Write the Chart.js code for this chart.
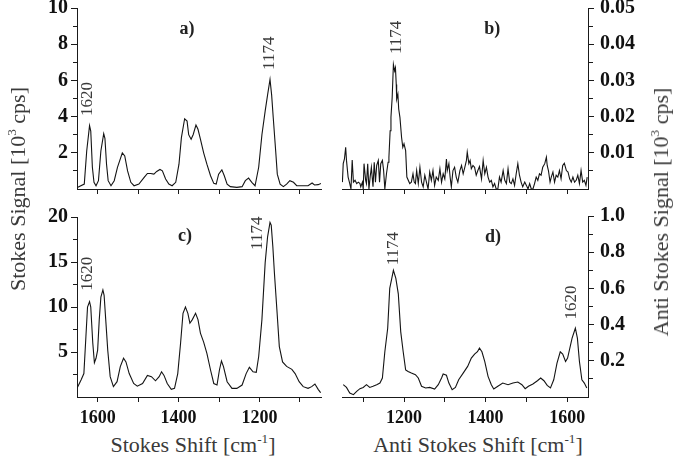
<!DOCTYPE html>
<html>
<head>
<meta charset="utf-8">
<script src="https://cdn.jsdelivr.net/npm/chart.js@4.4.1/dist/chart.umd.min.js"></script>
<style>
  html, body { margin: 0; padding: 0; background: #fff; }
  #wrap { position: relative; width: 674px; height: 472px; overflow: hidden;
          font-family: "Liberation Serif", "Times New Roman", serif; }
  canvas { position: absolute; }
  .t { position: absolute; white-space: nowrap; color: #3a3a3a; font-size: 22px;
       line-height: 1; transform: translate(-50%, -50%); }
  .t.v { transform: translate(-50%, -50%) rotate(-90deg); }
  .t sup { font-size: 0.6em; vertical-align: 0.7em; line-height: 0; }
</style>
</head>
<body>
<div id="wrap">
  <canvas id="pa" width="330" height="200" style="left:0;top:0"></canvas>
  <canvas id="pb" width="320" height="200" style="left:330px;top:0"></canvas>
  <canvas id="pc" width="330" height="230" style="left:0;top:200px"></canvas>
  <canvas id="pd" width="320" height="230" style="left:330px;top:200px"></canvas>
  <div class="t v" style="left:18px;top:189px">Stokes Signal [10<sup>3</sup> cps]</div>
  <div class="t v" style="left:661px;top:212px">Anti Stokes Signal [10<sup>3</sup> cps]</div>
  <div class="t" style="left:193px;top:445px">Stokes Shift [cm<sup>-1</sup>]</div>
  <div class="t" style="left:478px;top:445px">Anti Stokes Shift [cm<sup>-1</sup>]</div>
</div>
<script>
// ---- spectra (shift in cm^-1, signal in 10^3 cps) ----

// tick marks on every shift axis; only the labelled ones get text
const shiftTicks = [1100, 1200, 1300, 1400, 1500, 1600];
const shiftTickLabels = [1200, 1400, 1600];

// a) Stokes, low power
const stokesA_shift = [
  1649,1633,1627,1620,1617,1613,1609,1604,1598,1592,
  1585,1582,1578,1574,1567,1559,1551,1539,1533,1526,
  1518,1510,1498,1485,1477,1469,1461,1454,1446,1440,
  1432,1424,1416,1407,1399,1393,1385,1379,1375,1369,
  1364,1357,1352,1346,1338,1330,1321,1313,1307,1301,
  1293,1287,1280,1272,1256,1243,1235,1227,1219,1211,
  1202,1194,1186,1180,1174,1170,1166,1160,1156,1149,
  1141,1133,1125,1116,1108,1092,1080,1070,1064,1055,
  1048];
const stokesA_signal = [
  0.10,0.27,2.1,3.5,3.2,1.2,0.37,0.18,0.46,2.1,
  3.06,2.8,1.37,0.46,0.18,0.46,1.2,2.0,1.83,1.0,
  0.37,0.18,0.27,0.64,0.86,0.86,0.82,0.97,1.08,1.0,
  0.55,0.27,0.18,0.37,1.37,2.84,3.88,3.75,3.0,2.75,
  3.0,3.53,3.3,2.75,2.0,1.37,0.73,0.31,0.27,0.82,
  1.06,0.73,0.27,0.13,0.09,0.13,0.46,0.6,0.37,0.18,
  1.2,3.0,4.3,5.2,6.05,5.2,3.94,2.1,0.82,0.27,
  0.13,0.27,0.46,0.37,0.18,0.18,0.18,0.33,0.22,0.24,
  0.31];

// b) anti-Stokes, low power
const antiB_shift = [
  1049,1051,1054,1057,1059,1063,1067,1070,1073,1076,
  1080,1084,1088,1092,1094,1098,1100,1102,1106,1108,
  1111,1114,1117,1120,1124,1127,1130,1133,1137,1140,
  1143,1147,1150,1153,1157,1161,1163,1166,1168,1171,
  1174,1177,1179,1181,1182,1185,1187,1190,1194,1197,
  1200,1204,1207,1214,1218,1222,1225,1228,1231,1235,
  1239,1243,1247,1251,1255,1259,1263,1267,1271,1275,
  1279,1284,1288,1292,1296,1300,1304,1306,1310,1313,
  1316,1320,1324,1328,1332,1337,1341,1345,1349,1353,
  1355,1359,1362,1365,1369,1373,1377,1381,1385,1390,
  1394,1398,1402,1406,1410,1414,1418,1422,1426,1430,
  1434,1438,1443,1447,1451,1455,1459,1463,1467,1471,
  1475,1479,1483,1487,1491,1496,1500,1504,1508,1512,
  1516,1520,1524,1528,1532,1536,1540,1545,1549,1551,
  1554,1558,1561,1565,1569,1573,1577,1581,1585,1589,
  1593,1598,1602,1606,1610,1614,1618,1622,1626,1630,
  1634,1638,1642,1646,1649];
const antiB_signal = [
  .0019,.0070,.0083,.0115,.0079,.0033,.0015,0,.0080,.0019,
  .0024,.0015,.0019,.0015,.0006,.0019,0,.0070,.0024,.0015,
  .0070,0,.0033,.0060,.0006,.0074,.0019,.0065,.0079,.0019,
  .0070,.0079,.0051,0,.0042,.0074,.0088,.0161,.0198,.0253,
  .0344,.0326,.0335,.0289,.0248,.0262,.0221,.0198,.0143,.0115,
  .0125,.0106,.0033,.0015,.0019,.0042,.0019,.0015,.0051,.0015,
  .0060,.0019,.0006,.0038,.0019,0,.0047,.0024,.0051,.0010,
  .0033,.0024,.0056,.0019,.0042,.0028,.0083,.0051,.0070,.0033,
  .0006,.0051,.0060,.0033,.0019,.0051,.0065,.0042,.0060,.0079,
  .0102,.0070,.0079,.0056,.0065,.0060,.0038,.0051,.0062,.0028,
  .0079,.0042,.0060,.0033,.0019,.0024,.0006,.0015,0,0,
  .0033,.0019,.0051,.0024,.0015,.0056,.0019,.0015,.0028,.0010,
  .0042,.0070,.0038,.0019,.0006,.0019,.0010,0,.0015,0,
  0,.0015,.0033,.0024,.0042,.0038,.0060,.0070,.0088,.0065,
  .0051,.0019,.0033,.0047,.0019,.0038,.0033,.0051,.0028,.0065,
  .0071,.0051,.0047,.0028,.0019,.0033,.0019,.0024,.0038,.0015,
  .0051,.0019,.0024,.0010,.0033];

// c) Stokes, high power
const stokesC_shift = [
  1651,1641,1634,1629,1625,1620,1617,1612,1608,1604,
  1600,1596,1592,1587,1584,1580,1575,1569,1561,1552,
  1544,1536,1530,1522,1511,1502,1489,1477,1467,1457,
  1448,1442,1436,1428,1418,1410,1402,1395,1389,1383,
  1377,1372,1366,1358,1352,1346,1338,1330,1321,1313,
  1305,1299,1294,1289,1280,1268,1256,1243,1233,1225,
  1216,1208,1202,1194,1186,1180,1174,1171,1167,1163,
  1157,1151,1143,1133,1120,1112,1102,1092,1080,1071,
  1063,1055,1049];
const stokesC_signal = [
  0.96,1.9,2.6,6.7,10.0,10.6,10.0,6.0,3.8,4.3,
  5.2,8.6,11.1,11.9,11.3,8.6,5.2,2.26,1.15,1.7,
  3.37,4.3,3.9,2.6,1.5,1.2,1.5,2.4,2.26,1.8,
  2.26,2.8,2.4,1.5,0.85,0.96,2.6,6.0,9.3,10.0,
  9.3,8.2,8.6,9.3,8.6,7.1,6.1,4.85,3.0,1.5,
  1.33,3.0,4.0,3.37,1.7,0.96,0.96,1.33,2.6,3.3,
  2.8,2.74,4.5,8.6,14.9,17.8,19.4,19.1,16.7,13.7,
  9.7,5.6,3.9,3.4,3.07,2.6,1.7,1.15,0.96,1.15,
  1.44,0.85,0.48];

// d) anti-Stokes, high power
const antiD_shift = [
  1051,1059,1067,1076,1084,1092,1100,1108,1116,1124,
  1133,1141,1147,1153,1160,1165,1170,1174,1180,1186,
  1192,1198,1204,1210,1218,1228,1235,1243,1253,1263,
  1275,1284,1292,1296,1304,1310,1318,1326,1334,1345,
  1356,1365,1373,1380,1385,1391,1398,1406,1414,1420,
  1430,1442,1455,1467,1479,1489,1497,1505,1516,1527,
  1535,1543,1551,1559,1567,1575,1583,1589,1596,1601,
  1612,1620,1625,1630,1636,1642,1648];
const antiD_signal = [
  0.068,0.053,0.022,0.013,0.031,0.046,0.053,0.068,0.053,0.059,
  0.068,0.077,0.105,0.25,0.38,0.6,0.655,0.7,0.655,0.57,
  0.36,0.25,0.15,0.141,0.132,0.123,0.105,0.059,0.05,0.053,
  0.044,0.068,0.105,0.127,0.12,0.077,0.04,0.053,0.095,0.132,
  0.169,0.215,0.237,0.25,0.27,0.25,0.196,0.114,0.068,0.044,
  0.059,0.077,0.068,0.077,0.083,0.068,0.046,0.059,0.072,0.09,
  0.105,0.09,0.064,0.05,0.095,0.187,0.25,0.237,0.196,0.215,
  0.325,0.38,0.325,0.196,0.095,0.077,0.05];

// shift axis range shared by all four panels
const SHIFT_MIN = 1048, SHIFT_MAX = 1651;
const SERIF = '"Liberation Serif", "Times New Roman", serif';
const INK = '#1a1a1a';

// text drawn inside a panel at data coordinates (panel letter, peak positions)
function textLayer(items) {
  return {
    id: 'textLayer',
    afterDatasetsDraw(chart) {
      const { ctx, scales: { x, y } } = chart;
      for (const it of items) {
        ctx.save();
        ctx.translate(x.getPixelForValue(it.x), y.getPixelForValue(it.y));
        if (it.rotate) ctx.rotate(-Math.PI / 2);
        ctx.font = it.bold ? `bold 18px ${SERIF}` : `17px ${SERIF}`;
        ctx.fillStyle = it.bold ? '#222' : '#3a3a3a';
        ctx.textAlign = 'center';
        ctx.textBaseline = 'middle';
        ctx.fillText(it.text, 0, 0);
        ctx.restore();
      }
    }
  };
}

function makePanel(id, p) {
  const right = p.side === 'right';
  const minorDash = right ? [4, 20] : [0, 2, 4, 20];
  return new Chart(document.getElementById(id), {
    type: 'line',
    data: {
      datasets: [{
        data: p.shift.map((s, i) => ({ x: s, y: p.signal[i] })),
        borderColor: '#141414', borderWidth: 1.1, pointRadius: 0, tension: 0, fill: false
      }]
    },
    options: {
      responsive: false, animation: false, devicePixelRatio: 1,
      layout: { padding: p.pad },
      plugins: { legend: { display: false }, tooltip: { enabled: false } },
      scales: {
        x: {
          type: 'linear', position: 'bottom', min: SHIFT_MIN, max: SHIFT_MAX, reverse: p.reverse,
          border: { color: INK, width: 1 },
          grid: { drawOnChartArea: false, drawTicks: true, tickLength: 5, tickColor: INK },
          afterBuildTicks: s => { s.ticks = shiftTicks.map(v => ({ value: v })); },
          ticks: {
            display: p.xLabels, autoSkip: false, maxRotation: 0, padding: 6, color: '#111',
            font: { family: SERIF, size: 18, weight: 'bold' },
            callback: v => (shiftTickLabels.includes(v) ? String(v) : '')
          },
          afterFit: s => { s.height = p.xHeight; s.paddingLeft = 0; s.paddingRight = 0; }
        },
        y: {
          type: 'linear', position: p.side, min: 0, max: p.yMax,
          border: { color: INK, width: 1 },
          grid: {
            drawOnChartArea: false, drawTicks: true, tickLength: 6,
            tickColor: c => (c.tick && c.tick.value === 0 ? 'rgba(0,0,0,0)' : INK),
            tickBorderDash: c => (c.tick && p.yFmt(c.tick.value) === '' ? minorDash : [])
          },
          ticks: {
            stepSize: p.yStep, includeBounds: false, autoSkip: false, padding: p.yPad,
            color: '#111', font: { family: SERIF, size: 20, weight: 'bold' },
            callback: v => p.yFmt(v)
          },
          afterFit: s => { s.width = p.yWidth; s.paddingTop = 0; s.paddingBottom = 0; }
        }
      }
    },
    plugins: [textLayer(p.labels)]
  });
}

makePanel('pa', {
  shift: stokesA_shift, signal: stokesA_signal, side: 'left', reverse: true,
  yMax: 10, yStep: 1, yWidth: 77, yPad: 3, xHeight: 11, xLabels: false,
  pad: { top: 8, right: 9, left: 0, bottom: 0 },
  yFmt: v => (v > 0 && Math.round(v) % 2 === 0 ? String(Math.round(v)) : ''),
  labels: [
    { text: 'a)', x: 1379, y: 8.84, bold: true },
    { text: '1174', x: 1174, y: 7.5, rotate: true },
    { text: '1620', x: 1624, y: 4.97, rotate: true }
  ]
});

makePanel('pb', {
  shift: antiB_shift, signal: antiB_signal, side: 'right', reverse: false,
  yMax: 0.05, yStep: 0.005, yWidth: 62, yPad: 6, xHeight: 11, xLabels: false,
  pad: { top: 8, right: 0, left: 12, bottom: 0 },
  yFmt: v => { const k = Math.round(v * 1000); return k > 0 && k % 10 === 0 ? (k / 1000).toFixed(2) : ''; },
  labels: [
    { text: 'b)', x: 1416, y: 0.0442, bold: true },
    { text: '1174', x: 1182, y: 0.0419, rotate: true }
  ]
});

makePanel('pc', {
  shift: stokesC_shift, signal: stokesC_signal, side: 'left', reverse: true,
  yMax: 20, yStep: 2.5, yWidth: 77, yPad: 3, xHeight: 33, xLabels: true,
  pad: { top: 17, right: 9, left: 0, bottom: 0 },
  yFmt: v => { const k = Math.round(v * 10); return k > 0 && k % 50 === 0 ? String(k / 10) : ''; },
  labels: [
    { text: 'c)', x: 1384, y: 17.8, bold: true },
    { text: '1174', x: 1204, y: 18.2, rotate: true },
    { text: '1620', x: 1624, y: 13.7, rotate: true }
  ]
});

makePanel('pd', {
  shift: antiD_shift, signal: antiD_signal, side: 'right', reverse: false,
  yMax: 1, yStep: 0.1, yWidth: 62, yPad: 6, xHeight: 33, xLabels: true,
  pad: { top: 16, right: 0, left: 12, bottom: 0 },
  yFmt: v => { const k = Math.round(v * 10); return k > 0 && k % 2 === 0 ? (k / 10).toFixed(1) : ''; },
  labels: [
    { text: 'd)', x: 1418, y: 0.884, bold: true },
    { text: '1174', x: 1174, y: 0.82, rotate: true },
    { text: '1620', x: 1611, y: 0.522, rotate: true }
  ]
});
</script>
</body>
</html>
